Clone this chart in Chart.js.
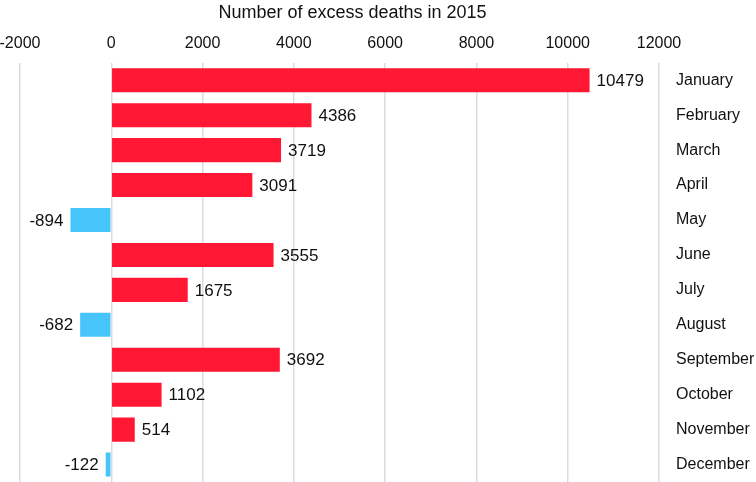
<!DOCTYPE html>
<html>
<head>
<meta charset="utf-8">
<script src="https://cdn.jsdelivr.net/npm/chart.js@4"></script>
<style>
  html, body { margin: 0; padding: 0; background: #fff; overflow: hidden; }
  canvas { display: block; }
</style>
</head>
<body>
<canvas id="chart" width="756" height="482"></canvas>
<script>
const months = ["January", "February", "March", "April", "May", "June", "July",
  "August", "September", "October", "November", "December"];
const excessDeaths = [10479, 4386, 3719, 3091, -894, 3555, 1675, -682, 3692, 1102, 514, -122];
const xTicks = [-2000, 0, 2000, 4000, 6000, 8000, 10000, 12000];
const axisTitle = "Number of excess deaths in 2015";

const RED = "#ff1733";
const BLUE = "#47c5fb";
const FONT = "'Liberation Sans', Arial, sans-serif";

// value labels next to each bar end, plus the axis title a bit right of centre
const valueLabels = {
  id: "valueLabels",
  afterDatasetsDraw(chart) {
    let ctx = chart.ctx;
    let meta = chart.getDatasetMeta(0);
    ctx.save();
    ctx.font = "17px " + FONT;
    ctx.fillStyle = "#111";
    ctx.textBaseline = "middle";
    meta.data.forEach((bar, i) => {
      let v = excessDeaths[i];
      if (v >= 0) {
        ctx.textAlign = "left";
        ctx.fillText(String(v), bar.x + 7, bar.y + 1);
      } else {
        ctx.textAlign = "right";
        ctx.fillText(String(v), bar.x - 7, bar.y + 1);
      }
    });
    let area = chart.chartArea;
    ctx.font = "18px " + FONT;
    ctx.textAlign = "center";
    ctx.textBaseline = "top";
    ctx.fillText(axisTitle, (area.left + area.right) / 2 + 13, chart.scales.x.top + 2);
    ctx.restore();
  }
};

new Chart(document.getElementById("chart"), {
  type: "bar",
  data: {
    labels: months,
    datasets: [{
      data: excessDeaths,
      backgroundColor: excessDeaths.map(v => v < 0 ? BLUE : RED),
      barPercentage: 0.85,
      categoryPercentage: 0.81
    }]
  },
  options: {
    indexAxis: "y",
    responsive: false,
    animation: false,
    layout: { padding: { left: 0, right: 0, top: 2, bottom: 0 } },
    plugins: {
      legend: { display: false },
      tooltip: { enabled: false }
    },
    scales: {
      x: {
        position: "top",
        min: -2000,
        max: 12000,
        afterBuildTicks(scale) {
          scale.ticks = xTicks.map(v => ({ value: v }));
        },
        afterFit(scale) {
          scale.paddingLeft = 20;
          scale.paddingRight = 0;
        },
        // reserves the space; the text itself is drawn by the plugin
        title: {
          display: true,
          text: axisTitle,
          color: "rgba(0,0,0,0)",
          font: { family: FONT, size: 18 },
          padding: { top: 0, bottom: 0 }
        },
        ticks: {
          color: "#111",
          font: { family: FONT, size: 16 },
          padding: 10,
          maxRotation: 0,
          callback: v => String(v)
        },
        grid: { color: "#d6dde3", lineWidth: 1.5, drawTicks: false },
        border: { display: false }
      },
      y: {
        position: "right",
        afterFit(scale) {
          scale.width = 97;
          scale.paddingTop = 0;
          scale.paddingBottom = 0;
        },
        ticks: {
          color: "#111",
          font: { family: FONT, size: 16 },
          padding: 9,
          crossAlign: "near"
        },
        grid: { display: false },
        border: { display: false }
      }
    }
  },
  plugins: [valueLabels]
});
</script>
</body>
</html>
